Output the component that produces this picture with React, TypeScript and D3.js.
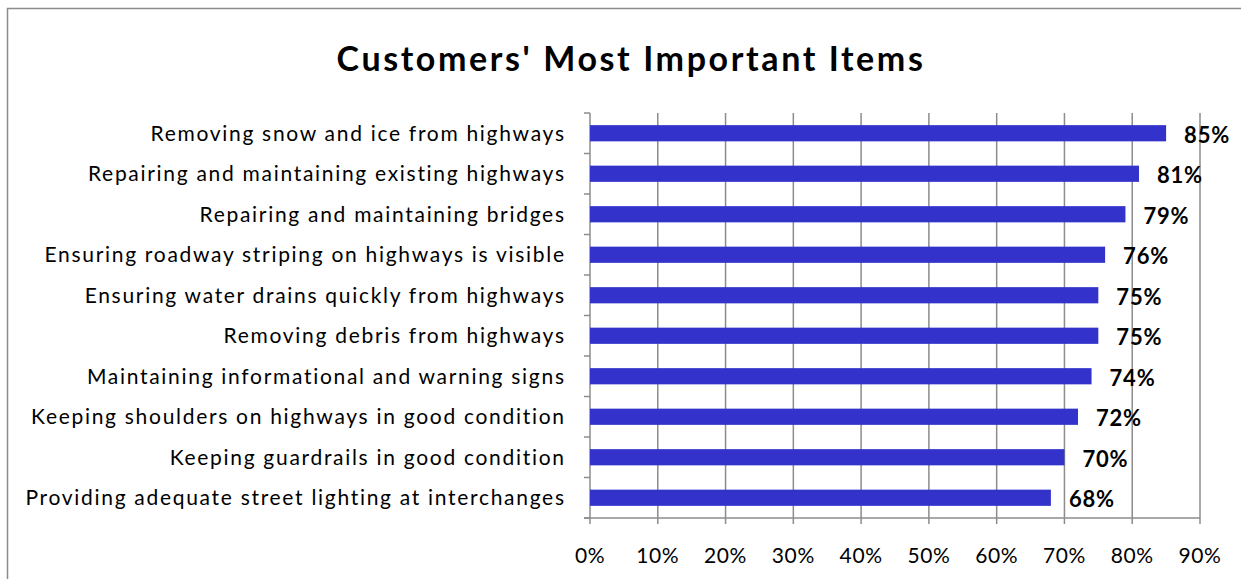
import { useEffect, useRef } from "react";
import * as d3 from "d3";

const categories = [
  "Removing snow and ice from highways",
  "Repairing and maintaining existing highways",
  "Repairing and maintaining bridges",
  "Ensuring roadway striping on highways is visible",
  "Ensuring water drains quickly from highways",
  "Removing debris from highways",
  "Maintaining informational and warning signs",
  "Keeping shoulders on highways in good condition",
  "Keeping guardrails in good condition",
  "Providing adequate street lighting at interchanges",
];
const values = [85, 81, 79, 76, 75, 75, 74, 72, 70, 68];
const xTicks = [0, 10, 20, 30, 40, 50, 60, 70, 80, 90];

const W = 1241;
const H = 579;
const FONT = "Lato, 'Open Sans', sans-serif";

export default function App() {
  const ref = useRef<SVGSVGElement>(null);

  useEffect(() => {
    const svg = d3.select(ref.current);
    svg.selectAll("*").remove();

    const margin = { top: 113, left: 590, right: 41, bottom: 61 };
    const x = d3.scaleLinear().domain([0, 90]).range([margin.left, W - margin.right]);
    const y = d3
      .scaleBand()
      .domain(categories)
      .range([margin.top, H - margin.bottom])
      .paddingInner(0.6)
      .paddingOuter(0.3);

    // outer frame
    svg.append("rect")
      .attr("x", 7.5).attr("y", 8.5)
      .attr("width", W + 10).attr("height", H + 10)
      .attr("fill", "white").attr("stroke", "#8c8c8c").attr("stroke-width", 1.5);

    svg.append("text")
      .attr("x", 631).attr("y", 71)
      .attr("text-anchor", "middle")
      .attr("font-family", FONT).attr("font-weight", "bold").attr("font-size", 34)
      .attr("letter-spacing", 2.6)
      .text("Customers' Most Important Items");

    // gridlines
    svg.append("g")
      .selectAll("line")
      .data(xTicks)
      .join("line")
      .attr("x1", (d) => x(d)).attr("x2", (d) => x(d))
      .attr("y1", margin.top).attr("y2", H - margin.bottom + 6)
      .attr("stroke", "#8c8c8c").attr("stroke-width", 1.5);

    // bottom axis line
    svg.append("line")
      .attr("x1", x(0) - 6).attr("x2", x(90))
      .attr("y1", H - margin.bottom).attr("y2", H - margin.bottom)
      .attr("stroke", "#8c8c8c").attr("stroke-width", 1.5);

    // left category tick marks at band boundaries
    const bounds = d3.range(categories.length + 1).map((i) => margin.top + i * ((H - margin.bottom - margin.top) / categories.length));
    svg.append("g")
      .selectAll("line")
      .data(bounds)
      .join("line")
      .attr("x1", x(0) - 6).attr("x2", x(0))
      .attr("y1", (d) => d).attr("y2", (d) => d)
      .attr("stroke", "#8c8c8c").attr("stroke-width", 1.5);

    svg.append("g")
      .selectAll("text")
      .data(xTicks)
      .join("text")
      .attr("x", (d) => x(d)).attr("y", 563)
      .attr("text-anchor", "middle")
      .attr("font-family", FONT).attr("font-size", 21)
      .attr("letter-spacing", 0.6)
      .text((d) => d + "%");

    svg.append("g")
      .selectAll("text")
      .data(categories)
      .join("text")
      .attr("x", x(0) - 26 + 1.7)
      .attr("y", (d) => y(d)! + y.bandwidth() / 2)
      .attr("dy", "0.35em")
      .attr("text-anchor", "end")
      .attr("font-family", FONT).attr("font-size", 21)
      .attr("letter-spacing", 1.7)
      .text((d) => d);

    svg.append("g")
      .selectAll("rect")
      .data(values)
      .join("rect")
      .attr("x", x(0))
      .attr("y", (d, i) => y(categories[i])!)
      .attr("width", (d) => x(d) - x(0))
      .attr("height", y.bandwidth())
      .attr("fill", "#3333cc");

    svg.append("g")
      .selectAll("text")
      .data(values)
      .join("text")
      .attr("x", (d) => x(d) + 18)
      .attr("y", (d, i) => y(categories[i])! + y.bandwidth() / 2 + 2)
      .attr("dy", "0.35em")
      .attr("font-family", FONT).attr("font-weight", "bold").attr("font-size", 22)
      .attr("letter-spacing", 0.8)
      .text((d) => d + "%");
  }, []);

  return (
    <svg
      ref={ref}
      width={W}
      height={H}
      style={{ position: "absolute", left: 0, top: 0, background: "white" }}
    />
  );
}
